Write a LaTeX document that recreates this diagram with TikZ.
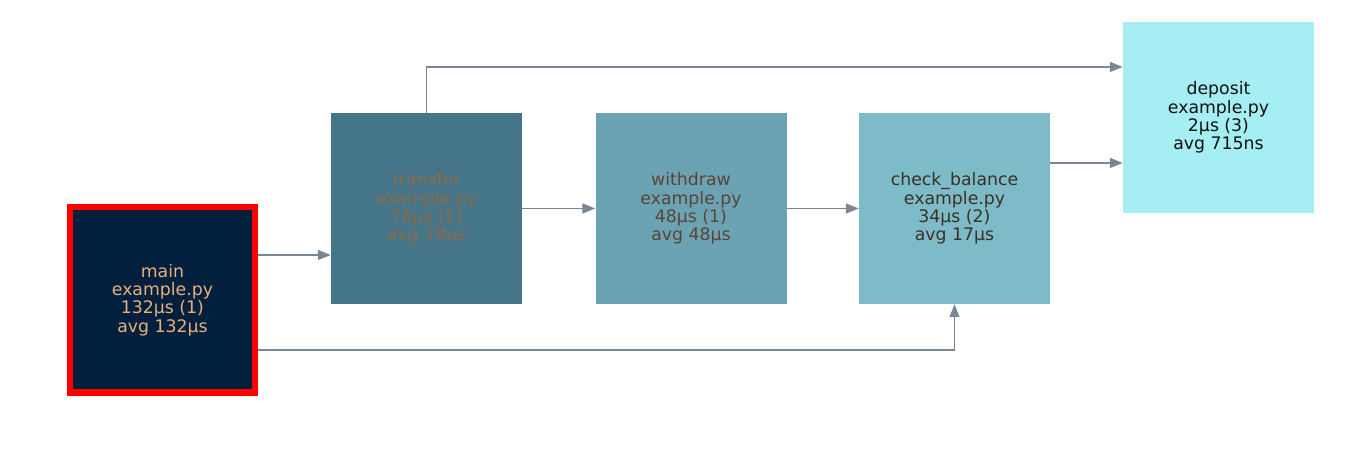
\documentclass[tikz,border=0pt]{standalone}
\usepackage{fontspec}
\setmainfont{DejaVu Sans}
\usetikzlibrary{arrows.meta}
\definecolor{edgec}{HTML}{7A8696}
\definecolor{mainfill}{HTML}{021F3D}
\definecolor{maintext}{HTML}{E6B07A}
\definecolor{trfill}{HTML}{457589}
\definecolor{trtext}{HTML}{8C6A48}
\definecolor{wdfill}{HTML}{6BA3B5}
\definecolor{wdtext}{HTML}{5A4433}
\definecolor{cbfill}{HTML}{7EBBC8}
\definecolor{cbtext}{HTML}{3A3024}
\definecolor{dpfill}{HTML}{A4EEF4}
\definecolor{dptext}{HTML}{111111}
\tikzset{
  fn/.style={rectangle, inner sep=0pt, minimum width=191pt, minimum height=191pt,
    align=center, font=\fontsize{17.3pt}{18.3pt}\selectfont},
  edge/.style={draw=edgec, line width=1.3pt, -{Triangle[length=13pt,width=10pt]}},
}
\begin{document}
\begin{tikzpicture}[x=1pt,y=-1pt]
\useasboundingbox (0,0) rectangle (1350,470);
\node[fn, fill=mainfill, draw=red, line width=6pt, minimum width=185pt, minimum height=185pt, text=maintext] (main) at (162.5,300) {main\\example.py\\132µs (1)\\avg 132µs};
\node[fn, fill=trfill, text=trtext] (transfer) at (426.5,208.5) {transfer\\example.py\\78µs (1)\\avg 78µs};
\node[fn, fill=wdfill, text=wdtext] (withdraw) at (691,208.5) {withdraw\\example.py\\48µs (1)\\avg 48µs};
\node[fn, fill=cbfill, text=cbtext] (check) at (954.5,208.5) {check\_balance\\example.py\\34µs (2)\\avg 17µs};
\node[fn, fill=dpfill, text=dptext] (deposit) at (1218.5,117.5) {deposit\\example.py\\2µs (3)\\avg 715ns};
\draw[edge] (main.east |- 0,255) -- (transfer.west |- 0,255);
\draw[edge] (main.east |- 0,350) -| (check.south);
\draw[edge] (transfer.east) -- (withdraw.west);
\draw[edge] (withdraw.east) -- (check.west);
\draw[edge] (transfer.north) |- (deposit.west |- 0,67);
\draw[edge] (check.east |- 0,163) -- (deposit.west |- 0,163);
\end{tikzpicture}
\end{document}
